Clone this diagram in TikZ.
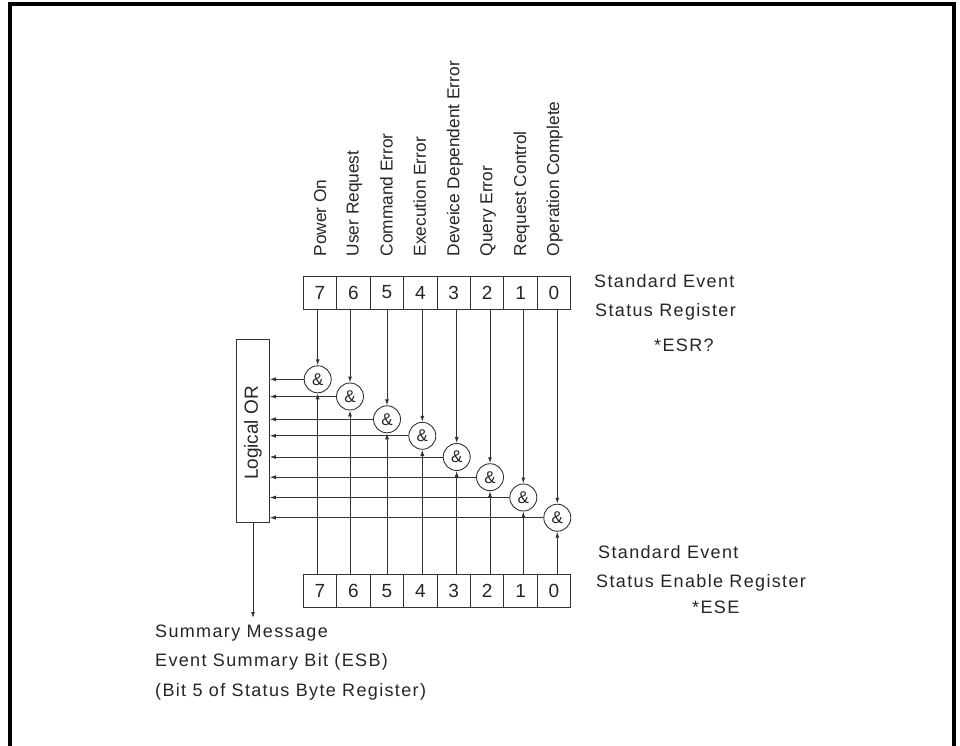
\documentclass[tikz,border=0pt]{standalone}
\usepackage{fontspec}
\setmainfont{Liberation Sans}
\newfontfamily\wfont[LetterSpace=7.5]{Liberation Sans}
\usetikzlibrary{arrows.meta}
\begin{document}
\begin{tikzpicture}[x=1pt,y=-1pt,
  ln/.style={draw=black!80, line width=0.9pt},
  arr/.style={ln, -{Latex[length=6pt,width=4pt]}},
  cell/.style={draw=black!80, line width=0.9pt, minimum width=33.43pt, minimum height=33pt, inner sep=0pt, font=\fontsize{19}{20}\selectfont, text=black!85},
  gate/.style={circle, draw=black!80, line width=0.9pt, minimum size=27pt, inner sep=0pt, font=\fontsize{17}{18}\selectfont, text=black!85},
  lbl/.style={rotate=90, anchor=base west, inner sep=0pt, font=\fontsize{17.3}{18}\selectfont, text=black!85},
  txt/.style={anchor=base west, inner sep=0pt, font=\wfont\fontsize{18}{20}\selectfont, text=black!85},
  orbox/.style={draw=black!80, line width=0.9pt, minimum width=32.6pt, minimum height=182.7pt, inner sep=0pt},
]
\useasboundingbox[fill=white] (0,0) rectangle (960,746);
% frame
\draw[line width=4pt, line join=miter] (10.3,750) -- (10.3,4.3) -- (954,4.3) -- (954,750);

% registers
\foreach \b in {0,...,7}{
  \node[cell] (t\b) at ({320+33.43*(7-\b)},292.5) {\b};
  \node[cell] (b\b) at ({320+33.43*(7-\b)},591) {\b};
}

% rotated labels
\foreach \b/\lx/\t in {7/320/Power On, 6/352.7/User Request, 5/386.7/Command Error, 4/419.8/Execution Error, 3/453.3/Deveice Dependent Error, 2/486.3/Query Error, 1/520/Request Control, 0/553/Operation Complete}{
  \node[lbl] (l\b) at (\lx+6,256.5) {\t};
}

% gates
\foreach \b/\gx/\gy in {7/317.7/379.3, 6/350/396.5, 5/387/419.3, 4/422.3/435.8, 3/456.7/457, 2/490/477.2, 1/523.3/497.5, 0/557.3/517.7}{
  \node[gate] (g\b) at (\gx,\gy) {\&};
}

% logical OR box
\node[orbox] (or) at (253,430.7) {};
\node[rotate=90, inner sep=0pt, font=\fontsize{19}{20}\selectfont, text=black!85] (ortxt) at (253,433) {Logical OR};

% connectors
\foreach \b in {0,...,7}{
  \draw[arr] (g\b |- t\b.south) -- (g\b.north);
  \draw[arr] (g\b |- b\b.north) -- (g\b.south);
  \draw[arr] (g\b.west) -- (g\b.west -| or.east);
}
\coordinate (smtip) at (253,618);
\draw[arr] (or.south) -- (smtip);

% texts
\node[txt] (ser1) at (594,287.7) {Standard Event};
\node[txt] (ser2) at (595,316) {Status Register};
\node[txt] (ser3) at (654,351) {*ESR?};
\node[txt] (ese1) at (598,558.4) {Standard Event};
\node[txt] (ese2) at (596,587.4) {Status Enable Register};
\node[txt] (ese3) at (692,613.4) {*ESE};
\node[txt] (sm1) at (155,637.4) {Summary Message};
\node[txt] (sm2) at (155,666.4) {Event Summary Bit (ESB)};
\node[txt] (sm3) at (155,696) {(Bit 5 of Status Byte Register)};
\end{tikzpicture}
\end{document}
